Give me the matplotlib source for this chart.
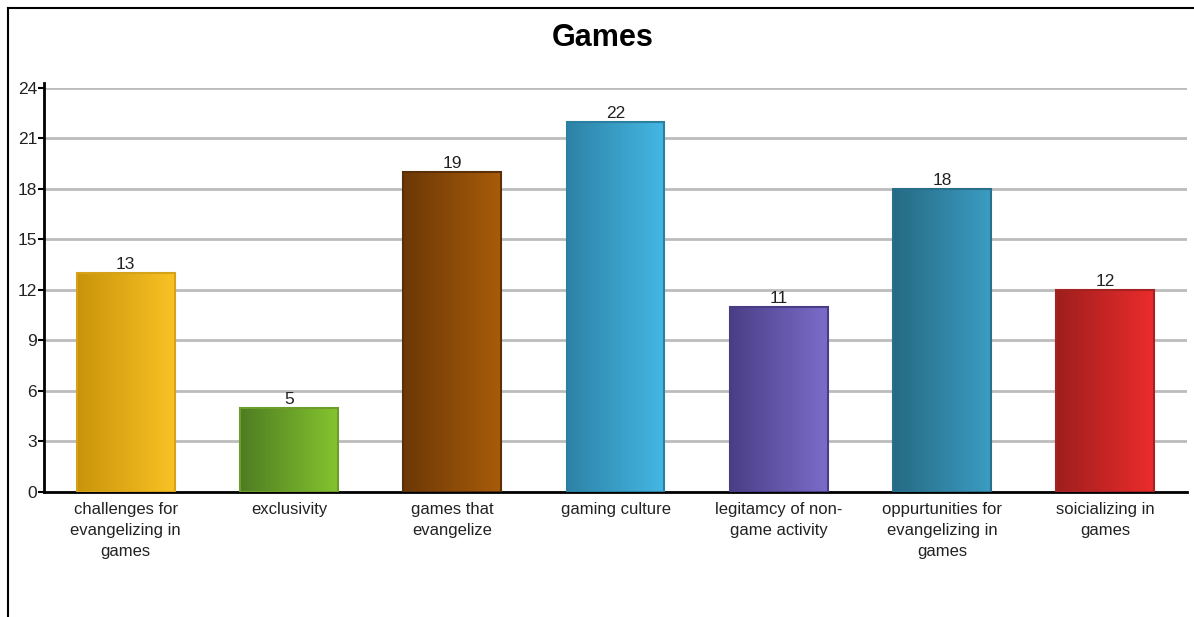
import numpy as np
import matplotlib
matplotlib.use("Agg")
from matplotlib import pyplot as plt
from matplotlib.lines import Line2D
from matplotlib.colors import LinearSegmentedColormap

plt.rcParams['font.family'] = ['Liberation Sans', 'DejaVu Sans']

categories = [
    "challenges for\nevangelizing in\ngames",
    "exclusivity",
    "games that\nevangelize",
    "gaming culture",
    "legitamcy of non-\ngame activity",
    "oppurtunities for\nevangelizing in\ngames",
    "soicializing in\ngames",
]
values = [13, 5, 19, 22, 11, 18, 12]
y_ticks = [0, 3, 6, 9, 12, 15, 18, 21, 24]

# gradient colours (left, right) and edge colour per bar
left_colors = ["#c8940a", "#4e7c22", "#6c3806", "#2e82a6", "#4b3e86", "#256a84", "#9e1e1e"]
right_colors = ["#fac224", "#84c42e", "#a85c0a", "#44b8e4", "#7b6cca", "#3b9cc2", "#ec2c2c"]
edge_colors = ["#d6a21a", "#6e9c2c", "#5a3008", "#2b7fa0", "#4a3d85", "#2a6f8a", "#a52222"]

fig = plt.figure(figsize=(11.94, 6.17), dpi=100)
ax = fig.add_axes([0.0369, 0.2026, 0.9572, 0.6548])

x = np.arange(len(categories))
bars = ax.bar(x, values, width=0.6, color="none", edgecolor=edge_colors, linewidth=1.5, zorder=3)

grad = np.linspace(0, 1, 256).reshape(1, -1)
for rect, c0, c1 in zip(bars, left_colors, right_colors):
    cmap = LinearSegmentedColormap.from_list("g", [c0, c1])
    x0, w, h = rect.get_x(), rect.get_width(), rect.get_height()
    ax.imshow(grad, cmap=cmap, aspect="auto", extent=[x0, x0 + w, 0, h],
              interpolation="bilinear", zorder=2)
    ax.text(x0 + w / 2, h + 0.05, str(int(h)), ha="center", va="bottom",
            fontsize=12.5, color="#222222", zorder=4)

ax.set_xlim(-0.5, len(categories) - 0.5)
ax.set_ylim(0, 24)
ax.set_yticks(y_ticks)
ax.set_yticklabels([str(t) for t in y_ticks], fontsize=12.5)
ax.set_xticks(x)
ax.set_xticklabels(categories, fontsize=12, linespacing=1.5, color="#222222")
ax.tick_params(axis="x", length=0, pad=7)
ax.tick_params(axis="y", length=4, width=1.5, pad=1, labelcolor="#222222")

ax.grid(axis="y", color="#bcbcbc", linewidth=2, zorder=0)
ax.set_axisbelow(True)
for s in ["top", "right"]:
    ax.spines[s].set_visible(False)
ax.spines["left"].set_linewidth(2)
ax.spines["bottom"].set_linewidth(2)
ax.spines["left"].set_bounds(0, 24.3)

fig.text(0.505, 0.938, "Games", ha="center", va="center", fontsize=22, fontweight="bold")

# outer frame lines (left and top)
fig.add_artist(Line2D([7.5 / 1194, 7.5 / 1194], [0, 1 - 7.5 / 617], color="black", linewidth=1.5))
fig.add_artist(Line2D([7.5 / 1194, 1], [1 - 7.5 / 617, 1 - 7.5 / 617], color="black", linewidth=1.5))

plt.savefig("out.png", dpi=100)
